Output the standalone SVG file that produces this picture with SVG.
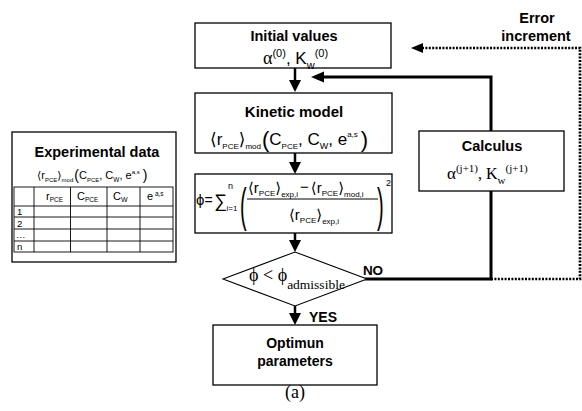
<svg xmlns="http://www.w3.org/2000/svg" width="582" height="411" viewBox="0 0 582 411">
<style>
.box{fill:#fff;stroke:#000;stroke-width:1.3}
.lbl{font-family:"Liberation Sans","DejaVu Sans",sans-serif;font-weight:bold;font-size:14.5px;fill:#000;text-anchor:middle}
.s{font-family:"Liberation Sans","DejaVu Sans",sans-serif;fill:#000}
.m{font-family:"Liberation Serif","DejaVu Serif",serif;fill:#000}
.arr{stroke:#000;stroke-width:2.5;fill:none}
.thick{stroke:#000;stroke-width:3;fill:none}
.dot{stroke:#000;stroke-width:2.7;fill:none;stroke-dasharray:2 1.4}
.grid{stroke:#000;stroke-width:0.9;fill:none}
</style>

<g id="connectors">
  <line class="arr" x1="295" y1="68" x2="295" y2="82"/>
  <polygon points="289,80 301,80 295,92"/>
  <line class="arr" x1="295" y1="153" x2="295" y2="164"/>
  <polygon points="289,162 301,162 295,174"/>
  <line class="arr" x1="295" y1="233" x2="295" y2="242"/>
  <polygon points="289,240 301,240 295,252"/>
  <line class="arr" x1="295" y1="306" x2="295" y2="315"/>
  <polygon points="289,313 301,313 295,325"/>
  <polyline class="thick" points="365,279 491,279 491,77 322,77"/>
  <polygon points="311,77 324,71.5 324,82.5"/>
  <polyline class="dot" points="491,279 580,279 580,48 421,48"/>
  <polygon points="411,48 423,43 423,53"/>
  <text class="lbl" x="537" y="23">Error</text>
  <text class="lbl" x="536" y="41">increment</text>
  <text class="lbl" x="373" y="275" style="font-size:13.5px">NO</text>
  <text class="lbl" x="323" y="322" style="font-size:14px">YES</text>
</g>

<g id="initial">
  <rect class="box" x="195" y="23" width="196" height="45"/>
  <text class="lbl" x="294" y="41">Initial values</text>
  <text class="s" x="263" y="64" font-size="17"><tspan class="m" font-size="18">α</tspan><tspan font-size="11" y="57">(0)</tspan><tspan y="64">, K</tspan><tspan font-size="11" y="69">w</tspan><tspan font-size="11" y="57">(0)</tspan></text>
</g>

<g id="kinetic">
  <rect class="box" x="195" y="93" width="197" height="60"/>
  <text class="lbl" x="294" y="117" style="font-size:15px">Kinetic model</text>
  <text class="s" x="210" y="145" font-size="17">⟨r<tspan font-size="8" y="149">PCE</tspan><tspan y="145">⟩</tspan><tspan font-size="8" y="149">mod</tspan><tspan font-size="22" y="147" dx="1">(</tspan><tspan y="145">C</tspan><tspan font-size="8" y="149">PCE</tspan><tspan y="145">, C</tspan><tspan font-size="9" y="149">W</tspan><tspan y="145">, e</tspan><tspan font-size="8" y="137">a,s</tspan><tspan font-size="22" y="147" dx="3">)</tspan></text>
</g>

<g id="objective">
  <rect class="box" x="195" y="174" width="197" height="59"/>
  <text class="s" x="196" y="205" font-size="15">ϕ</text>
  <text class="s" x="204.5" y="205" font-size="14">=</text>
  <text class="s" x="214" y="207" font-size="18">∑</text>
  <text class="s" x="228" y="189" font-size="9">n</text>
  <text class="s" x="226.5" y="211" font-size="8">i=1</text>
  <text class="s" transform="translate(240,221) scale(1,2.35)" font-size="20">(</text>
  <line x1="247" y1="199" x2="378" y2="199" stroke="#000" stroke-width="1"/>
  <text class="s" x="248" y="193" font-size="15">⟨r<tspan font-size="8" y="196">PCE</tspan><tspan y="193">⟩</tspan><tspan font-size="8" y="197">exp,i</tspan><tspan y="192" dx="2">−</tspan><tspan y="193" dx="2">⟨r</tspan><tspan font-size="8" y="196">PCE</tspan><tspan y="193">⟩</tspan><tspan font-size="8" y="197">mod,i</tspan></text>
  <text class="s" x="289" y="220" font-size="15">⟨r<tspan font-size="8" y="223">PCE</tspan><tspan y="220">⟩</tspan><tspan font-size="8" y="224">exp,i</tspan></text>
  <text class="s" transform="translate(377,221) scale(1,2.35)" font-size="20">)</text>
  <text class="s" x="386" y="186" font-size="9">2</text>
</g>

<g id="decision">
  <polygon points="223,279 295,252 367,279 295,306" fill="#fff" stroke="#000" stroke-width="1.1"/>
  <text class="m" x="249" y="281" font-size="18">ϕ <tspan>&lt;</tspan> <tspan>ϕ</tspan><tspan font-size="13.5" y="289">admissible</tspan></text>
</g>

<g id="optimum">
  <rect class="box" x="213" y="325" width="164" height="60"/>
  <text class="lbl" x="295" y="348" style="font-size:14px">Optimun</text>
  <text class="lbl" x="295" y="366" style="font-size:14px">parameters</text>
</g>

<g id="calculus">
  <rect class="box" x="419" y="131" width="145" height="60"/>
  <text class="lbl" x="492" y="151">Calculus</text>
  <text class="m" x="447" y="179" font-size="16"><tspan font-size="17">α</tspan><tspan font-size="11" y="172">(j+1)</tspan><tspan y="179">, K</tspan><tspan font-size="11" y="184">w</tspan><tspan font-size="11" y="172">(j+1)</tspan></text>
</g>

<g id="experimental">
  <rect class="box" x="12" y="132" width="164" height="130"/>
  <text class="lbl" x="97" y="157">Experimental data</text>
  <text class="s" x="37" y="179" font-size="11">⟨r<tspan font-size="6" y="182">PCE</tspan><tspan y="179">⟩</tspan><tspan font-size="6" y="182">mod</tspan><tspan font-size="14" y="180" dx="1">(</tspan><tspan y="179">C</tspan><tspan font-size="6" y="182">PCE</tspan><tspan y="179">, C</tspan><tspan font-size="6.5" y="182">W</tspan><tspan y="179">, e</tspan><tspan font-size="6" y="174">a,s</tspan><tspan font-size="14" y="180" dx="3">)</tspan></text>
  <rect class="grid" x="14" y="187" width="159" height="65"/>
  <line class="grid" x1="14" y1="206" x2="173" y2="206"/>
  <line class="grid" x1="14" y1="217" x2="173" y2="217"/>
  <line class="grid" x1="14" y1="229" x2="173" y2="229"/>
  <line class="grid" x1="14" y1="241" x2="173" y2="241"/>
  <line class="grid" x1="34" y1="187" x2="34" y2="252"/>
  <line class="grid" x1="70.5" y1="187" x2="70.5" y2="252"/>
  <line class="grid" x1="107" y1="187" x2="107" y2="252"/>
  <line class="grid" x1="140" y1="187" x2="140" y2="252"/>
  <text class="s" x="46" y="200" font-size="11">r<tspan font-size="6.5" y="202">PCE</tspan></text>
  <text class="s" x="77" y="200" font-size="11">C<tspan font-size="6.5" y="202">PCE</tspan></text>
  <text class="s" x="113" y="200" font-size="11">C<tspan font-size="7" y="202">W</tspan></text>
  <text class="s" x="147" y="200" font-size="11">e<tspan font-size="6.5" y="196"> a,s</tspan></text>
  <text class="s" x="17" y="214.5" font-size="9.5">1</text>
  <text class="s" x="17" y="226.5" font-size="9.5">2</text>
  <text class="s" x="16" y="238" font-size="9.5">…</text>
  <text class="s" x="17" y="250" font-size="9.5">n</text>
</g>

<text class="m" x="295" y="398" font-size="18" text-anchor="middle">(a)</text>
</svg>
